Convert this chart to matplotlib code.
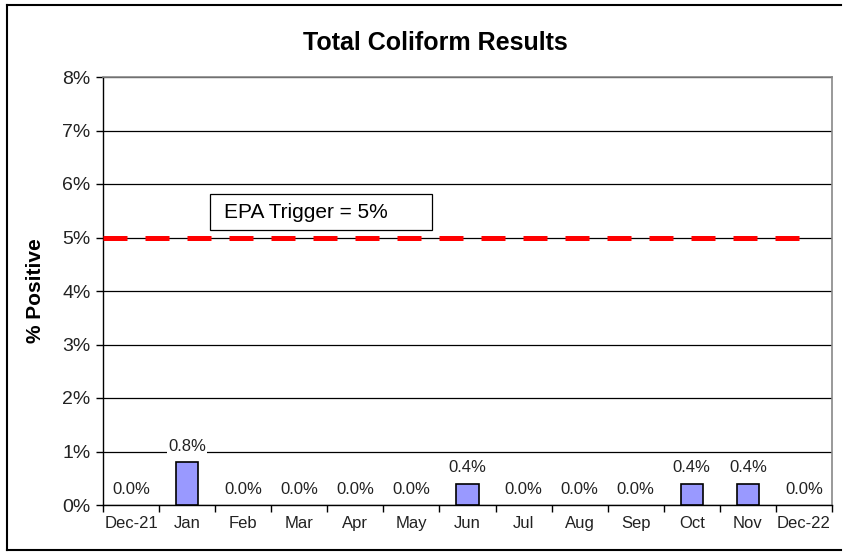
import numpy as np
import matplotlib.pyplot as plt
from matplotlib.lines import Line2D
from matplotlib.patches import Rectangle

plt.rcParams['font.family'] = ['Liberation Sans', 'DejaVu Sans']

# Monate und Anteil positiver Proben (%)
months = ["Dec-21", "Jan", "Feb", "Mar", "Apr", "May", "Jun",
          "Jul", "Aug", "Sep", "Oct", "Nov", "Dec-22"]
positive = [0.0, 0.8, 0.0, 0.0, 0.0, 0.0, 0.4, 0.0, 0.0, 0.0, 0.4, 0.4, 0.0]

# EPA-Grenzwert
trigger = 5.0
yticks = [0, 1, 2, 3, 4, 5, 6, 7, 8]

fig = plt.figure(figsize=(8.48, 5.52), dpi=100)
ax = fig.add_axes([103/848, 1-505/552, (832-103)/848, (505-77)/552])

x = np.arange(len(months))
ax.bar(x, positive, width=0.4, color='#9999FF', edgecolor='black',
       linewidth=[1.2 if v > 0 else 0 for v in positive], zorder=3)

# Beschriftung der Balken
for xi, v in zip(x, positive):
    bb = dict(facecolor='white', edgecolor='none', pad=1) if v > 0.6 else None
    ax.annotate(f"{v:.1f}%", (xi, v), xytext=(0, 6), textcoords='offset points',
                ha='center', va='bottom', fontsize=12, color='#222222',
                bbox=bb, zorder=5)

# Grenzwertlinie
ax.plot([-0.5, len(months) - 1], [trigger, trigger], color='#FF0000',
        linewidth=3.6, dashes=(4.8, 3.6), solid_capstyle='butt',
        dash_capstyle='butt', zorder=4)
ax.add_patch(Rectangle((1.408, 5.14), 5.367 - 1.408, 5.813 - 5.14,
                       facecolor='white', edgecolor='black', linewidth=0.9,
                       zorder=6))
ax.text(1.658, 5.47, "EPA Trigger = 5%", ha='left', va='center',
        fontsize=15, zorder=7)

ax.set_xlim(-0.5, len(months) - 0.5)
ax.set_ylim(0, 8)
ax.set_yticks(yticks)
ax.set_yticklabels([f"{t}%" for t in yticks], fontsize=14, color='#222222')
ax.yaxis.grid(True, color='black', linewidth=0.9, zorder=1)
ax.set_axisbelow(True)

ax.set_xticks(x)
ax.set_xticklabels(months, fontsize=12, color='#222222')
ax.tick_params(axis='x', length=0, pad=8)
ax.set_xticks(np.arange(-0.5, len(months)), minor=True)
ax.tick_params(axis='x', which='minor', length=5, width=1, direction='out')
ax.tick_params(axis='y', length=5, width=1, direction='out', pad=4)

for s in ['top', 'right']:
    ax.spines[s].set_color('#888888')
    ax.spines[s].set_linewidth(1.2)
for s in ['left', 'bottom']:
    ax.spines[s].set_color('black')
    ax.spines[s].set_linewidth(1.0)

ax.set_ylabel("% Positive", fontsize=15, fontweight='bold', labelpad=12)
fig.text(435/848, 1-43/552, "Total Coliform Results", ha='center', va='center',
         fontsize=18, fontweight='bold')

# Rahmen um die Grafik
fx0, fx1 = 7/848, 841/848
fy0, fy1 = 1-550/552, 1-5/552
for xs, ys in [([fx0, fx0], [fy0, fy1]), ([fx0, fx1], [fy1, fy1]),
               ([fx0, fx1], [fy0, fy0])]:
    fig.add_artist(Line2D(xs, ys, color='black', linewidth=1.5))

fig.savefig("out.png", dpi=100)
